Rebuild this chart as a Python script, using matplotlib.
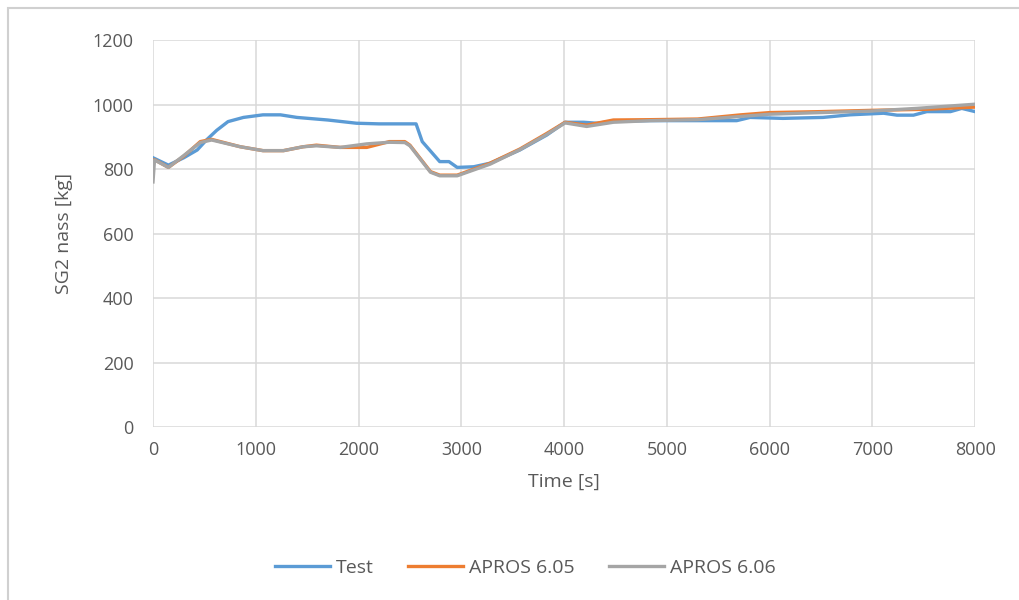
import matplotlib.pyplot as plt
from matplotlib.patches import Rectangle

# Test data
t_test = [0, 150, 300, 430, 520, 620, 730, 880, 1070, 1240, 1400, 1700, 1980, 2200,
          2560, 2620, 2790, 2880, 2960, 3120, 3280, 3570, 3830, 4010, 4190, 4320,
          4480, 4840, 5300, 5680, 5810, 6130, 6520, 6780, 7110, 7240, 7400, 7530,
          7760, 7870, 8000]
m_test = [835, 812, 835, 859, 890, 920, 947, 960, 968, 968, 960, 952, 942, 940,
          940, 885, 823, 823, 805, 807, 818, 859, 905, 945, 945, 942,
          948, 950, 950, 950, 960, 957, 960, 968, 973, 967, 967, 978,
          978, 988, 978]

# APROS 6.05
t_605 = [0, 20, 150, 300, 460, 570, 850, 1070, 1270, 1460, 1590, 1820, 2080, 2300,
         2450, 2500, 2700, 2790, 2960, 3280, 3570, 3830, 4010, 4220, 4480, 4840,
         5300, 5720, 6000, 6500, 7000, 7500, 8000]
m_605 = [828, 828, 805, 840, 885, 892, 869, 857, 857, 869, 874, 867, 867, 885,
         885, 874, 792, 781, 781, 818, 862, 910, 945, 936, 952, 953,
         955, 968, 975, 978, 982, 985, 992]

# APROS 6.06
t_606 = [0, 15, 150, 300, 460, 570, 850, 1070, 1270, 1460, 1590, 1820, 2080, 2300,
         2450, 2500, 2700, 2790, 2960, 3280, 3570, 3830, 4010, 4220, 4480, 4840,
         5300, 5720, 6000, 6500, 7000, 7430, 8000]
m_606 = [760, 828, 805, 842, 882, 890, 869, 857, 857, 869, 872, 867, 878, 883,
         882, 872, 790, 779, 779, 815, 860, 907, 943, 932, 945, 950,
         953, 963, 970, 975, 980, 988, 1001]

plt.rcParams['font.family'] = ['Open Sans', 'DejaVu Sans']

fig = plt.figure(figsize=(10.2, 6), dpi=100)
ax = fig.add_axes([0.15, 0.2883, 0.806, 0.645])

ax.plot(t_test, m_test, color='#5B9BD5', lw=2.4, label='Test')
ax.plot(t_605, m_605, color='#ED7D31', lw=2.4, label='APROS 6.05')
ax.plot(t_606, m_606, color='#A5A5A5', lw=2.4, label='APROS 6.06')

ax.set_xlim(0, 8000)
ax.set_ylim(0, 1200)
ax.set_xticks(range(0, 8001, 1000))
ax.set_yticks(range(0, 1201, 200))
ax.grid(True, color='#D9D9D9', lw=1.1)
ax.set_axisbelow(True)
for s in ax.spines.values():
    s.set_visible(False)
ax.tick_params(length=0, labelsize=13, colors='#595959', pad=10)
ax.tick_params(axis='y', pad=14)

ax.set_xlabel('Time [s]', fontsize=14, color='#595959', labelpad=10)
ax.set_ylabel('SG2 nass [kg]', fontsize=14, color='#595959', labelpad=14)

fig.legend(loc='center', bbox_to_anchor=(0.515, 1 - 568 / 600), ncol=3,
           frameon=False, fontsize=14, labelcolor='#595959',
           handlelength=2.8, handletextpad=0.3, columnspacing=1.8)

# chart border
fig.patches.append(Rectangle((8 / 1020, -0.1), 1.2, 1 - 8 / 600 + 0.1,
                             transform=fig.transFigure, fill=False,
                             edgecolor='#D0D0D0', lw=1.5))

fig.savefig('out.png', dpi=100)
